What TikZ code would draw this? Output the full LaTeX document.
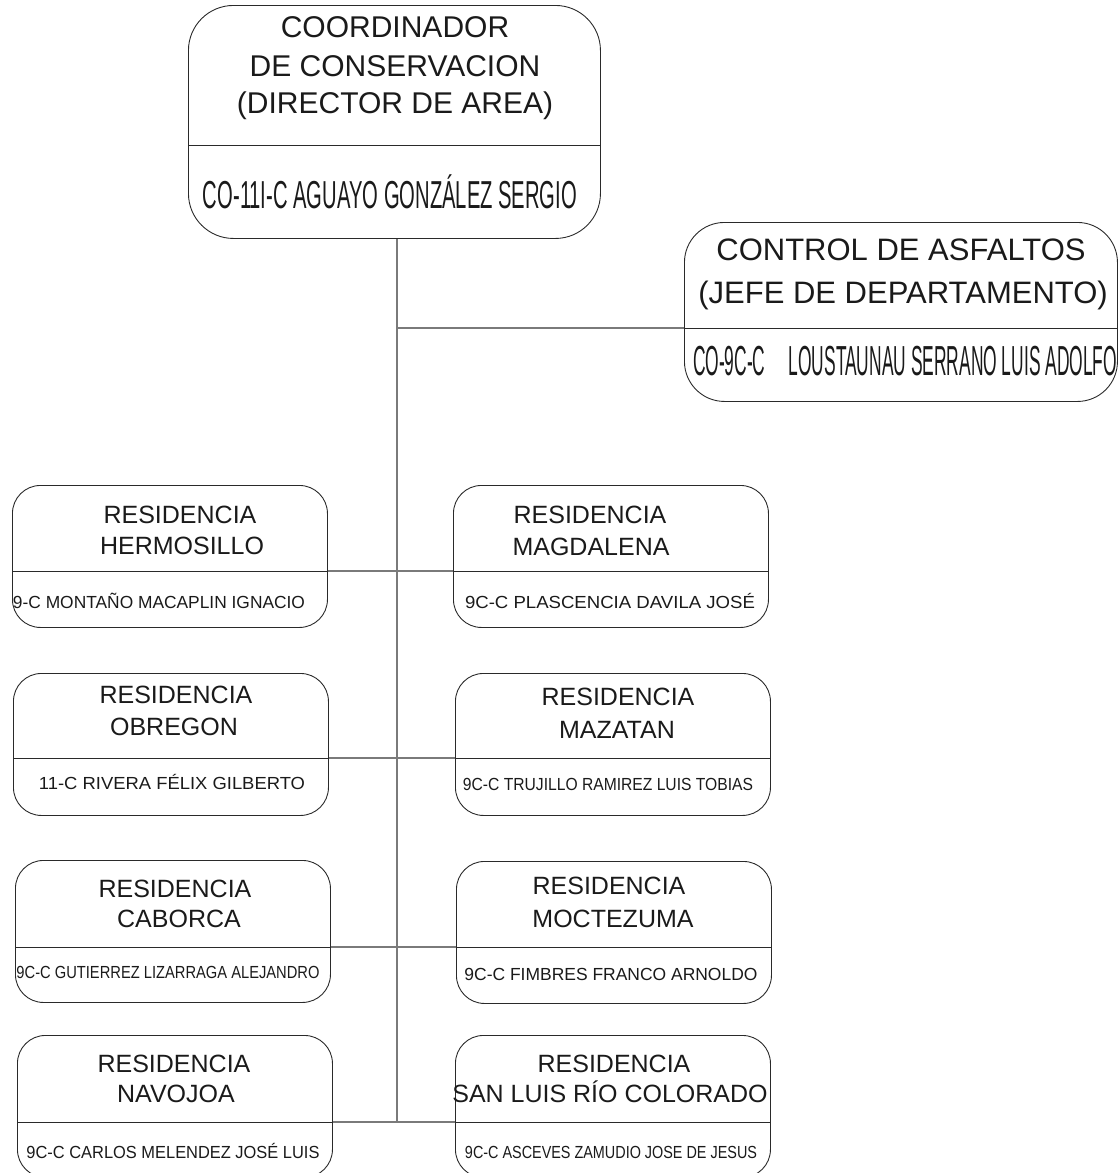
\documentclass[tikz,border=0pt]{standalone}
\usepackage{fontspec}
\setmainfont{Liberation Sans}
\usepackage{graphicx}
\definecolor{boxc}{HTML}{2A2A2A}
\definecolor{connc}{HTML}{7A7A7A}
\definecolor{txtc}{HTML}{1A1A1A}
\newcommand\fitw[3]{\resizebox{#1}{\height}{\fontsize{#2}{#2}\selectfont #3}}
\begin{document}
\begin{tikzpicture}[x=1pt,y=-1pt,
  rbox/.style={draw=boxc, line width=0.9pt, rounded corners=28pt, inner sep=0pt,
    anchor=north west, minimum width=315pt, minimum height=142pt},
  divl/.style={draw=boxc, line width=0.9pt},
  conn/.style={draw=connc, line width=1.4pt},
  bigt/.style={anchor=base, font=\fontsize{30}{30}\selectfont, text=txtc, inner sep=0pt},
  ttl/.style={anchor=base, font=\fontsize{25}{25}\selectfont, text=txtc, inner sep=0pt},
  nm/.style={anchor=base, text=txtc, inner sep=0pt}]
\useasboundingbox (0,0) rectangle (1119,1173);
\clip (0,0) rectangle (1119,1173);

% ---- top box
\node[rbox, rounded corners=45pt, minimum width=412pt, minimum height=233pt] (top) at (188,5) {};
\draw[divl] (top.west |- 0,145) -- (top.east |- 0,145);
\node[bigt] (top1) at (395,37) {COORDINADOR};
\node[bigt] (top2) at (395,76) {DE CONSERVACION};
\node[bigt] (top3) at (395,113) {(DIRECTOR DE AREA)};
\node[nm] (topn) at (390,208) {\fitw{374pt}{39}{CO-11I-C AGUAYO GONZÁLEZ SERGIO}};

% ---- control box
\node[rbox, rounded corners=40pt, minimum width=433pt, minimum height=179pt] (ctl) at (684,222) {};
\draw[divl] (ctl.west |- 0,328) -- (ctl.east |- 0,328);
\node[bigt, font=\fontsize{31}{31}\selectfont] (ctl1) at (901,260) {CONTROL DE ASFALTOS};
\node[bigt, font=\fontsize{31}{31}\selectfont] (ctl2) at (903,303) {(JEFE DE DEPARTAMENTO)};
\node[nm] (ctln) at (905,375) {\fitw{424pt}{42}{CO-9C-C\hspace{56pt}LOUSTAUNAU SERRANO LUIS ADOLFO}};

% ---- residencias
\node[rbox] (herm) at (12,485) {};
\node[rbox] (magd) at (453,485) {};
\node[rbox] (obre) at (13,673) {};
\node[rbox] (maza) at (455,673) {};
\node[rbox] (cabo) at (15,860) {};
\node[rbox] (moct) at (456,861) {};
\node[rbox] (navo) at (17,1035) {};
\node[rbox] (slrc) at (455,1035) {};

\foreach \b/\y in {herm/571,magd/571,obre/758,maza/758,cabo/947,moct/947,navo/1122,slrc/1122}{
  \draw[divl] (\b.west |- 0,\y) -- (\b.east |- 0,\y);
}

% titles and names
\node[ttl] (herm1) at (180,523) {RESIDENCIA};
\node[ttl] (herm2) at (182,554) {HERMOSILLO};
\node[nm] (hermn) at (159,608) {\fitw{292pt}{17.5}{9-C MONTAÑO MACAPLIN IGNACIO}};

\node[ttl] (magd1) at (590,523) {RESIDENCIA};
\node[ttl] (magd2) at (591,555) {MAGDALENA};
\node[nm] (magdn) at (610,608) {\fitw{290pt}{17.5}{9C-C PLASCENCIA DAVILA JOSÉ}};

\node[ttl] (obre1) at (176,703) {RESIDENCIA};
\node[ttl] (obre2) at (174,735) {OBREGON};
\node[nm] (obren) at (172,789) {\fitw{266pt}{17.5}{11-C RIVERA FÉLIX GILBERTO}};

\node[ttl] (maza1) at (618,705) {RESIDENCIA};
\node[ttl] (maza2) at (617,738) {MAZATAN};
\node[nm] (mazan) at (608,790) {\fitw{290pt}{17.5}{9C-C TRUJILLO RAMIREZ LUIS TOBIAS}};

\node[ttl] (cabo1) at (175,897) {RESIDENCIA};
\node[ttl] (cabo2) at (179,927) {CABORCA};
\node[nm] (cabon) at (168,978) {\fitw{303pt}{17.5}{9C-C GUTIERREZ LIZARRAGA ALEJANDRO}};

\node[ttl] (moct1) at (609,894) {RESIDENCIA};
\node[ttl] (moct2) at (613,927) {MOCTEZUMA};
\node[nm] (moctn) at (611,980) {\fitw{293pt}{17.5}{9C-C FIMBRES FRANCO ARNOLDO}};

\node[ttl] (navo1) at (174,1072) {RESIDENCIA};
\node[ttl] (navo2) at (176,1102) {NAVOJOA};
\node[nm] (navon) at (173,1158) {\fitw{293pt}{17.5}{9C-C CARLOS MELENDEZ JOSÉ LUIS}};

\node[ttl] (slrc1) at (614,1072) {RESIDENCIA};
\node[ttl] (slrc2) at (610,1102) {SAN LUIS RÍO COLORADO};
\node[nm] (slrcn) at (611,1158) {\fitw{292pt}{17.5}{9C-C ASCEVES ZAMUDIO JOSE DE JESUS}};

% ---- connectors
\coordinate (trunkbot) at (397,1122);
\coordinate (brj) at (397,328);
\draw[conn] (top.south -| trunkbot) -- (trunkbot);
\draw[conn] (brj) -- (ctl.west |- brj);
\draw[conn] (herm.east |- 0,571) -- (magd.west |- 0,571);
\draw[conn] (obre.east |- 0,758) -- (maza.west |- 0,758);
\draw[conn] (cabo.east |- 0,947) -- (moct.west |- 0,947);
\draw[conn] (navo.east |- 0,1122) -- (slrc.west |- 0,1122);
\end{tikzpicture}
\end{document}
